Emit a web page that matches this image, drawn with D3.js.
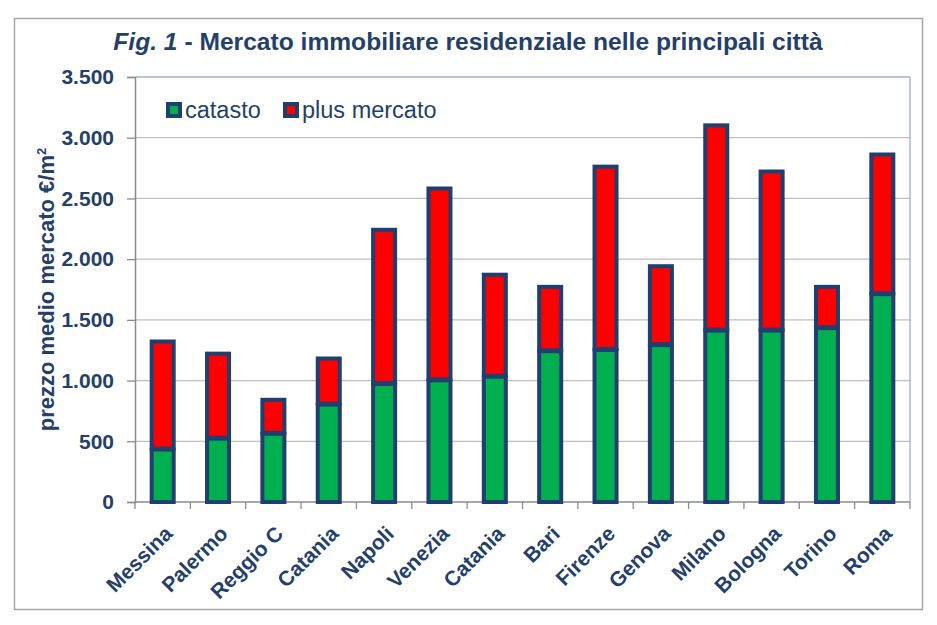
<!DOCTYPE html>
<html>
<head>
<meta charset="utf-8">
<script src="https://cdn.jsdelivr.net/npm/d3@7"></script>
<style>
  body { margin: 0; background: #fff; }
  text { font-family: "Liberation Sans", Arial, sans-serif; }
</style>
</head>
<body>
<svg id="chart" width="937" height="625"></svg>
<script>
// dati
const citta = ["Messina", "Palermo", "Reggio C", "Catania", "Napoli", "Venezia", "Catania",
               "Bari", "Firenze", "Genova", "Milano", "Bologna", "Torino", "Roma"];
const catasto = [440, 530, 570, 810, 980, 1010, 1040, 1250, 1260, 1300, 1420, 1420, 1440, 1720];
const totale = [1330, 1230, 850, 1190, 2250, 2590, 1880, 1780, 2770, 1950, 3110, 2730, 1780, 2870];
const yTicks = [0, 500, 1000, 1500, 2000, 2500, 3000, 3500];
const serie = ["catasto", "plus mercato"];

const blu = "#1F3F6F", testo = "#243F6B";
const colori = { "catasto": "#00B050", "plus mercato": "#FF0000" };

const svg = d3.select("#chart");
const margin = { left: 135, top: 77, right: 27, bottom: 123 };
const W = 937, H = 625;

// cornice esterna
svg.append("rect")
  .attr("x", 14.5).attr("y", 18.5).attr("width", 908).attr("height", 591)
  .attr("fill", "none").attr("stroke", "#A6A6A6").attr("stroke-width", 1.5);

const x = d3.scaleBand()
  .domain(d3.range(citta.length))
  .range([margin.left, W - margin.right])
  .paddingInner(0.53).paddingOuter(0.265);

const y = d3.scaleLinear().domain([0, 3500]).range([H - margin.bottom, margin.top]);

// griglia
svg.append("g").selectAll("line")
  .data(yTicks.slice(1))
  .join("line")
    .attr("x1", margin.left).attr("x2", W - margin.right)
    .attr("y1", d => y(d)).attr("y2", d => y(d))
    .attr("stroke", d => d === 3500 ? "#9FB1CC" : "#BFBFBF").attr("stroke-width", 1.3);

// bordo destro area grafico
svg.append("line")
  .attr("x1", W - margin.right).attr("x2", W - margin.right)
  .attr("y1", margin.top).attr("y2", H - margin.bottom)
  .attr("stroke", "#9FB1CC").attr("stroke-width", 1.3);

// asse Y
const yAxis = svg.append("g")
  .attr("transform", `translate(${margin.left},0)`)
  .call(d3.axisLeft(y).tickValues(yTicks).tickSize(8).tickPadding(13)
    .tickFormat(d => d3.format(",")(d).replace(/,/g, ".")));
yAxis.select(".domain").attr("stroke", "#8C8C8C").attr("stroke-width", 1.5);
yAxis.selectAll(".tick line").attr("stroke", "#8C8C8C").attr("stroke-width", 1.3);
yAxis.selectAll(".tick text")
  .attr("fill", testo).style("font-size", "21px").style("font-weight", "bold")
  .attr("font-family", "Liberation Sans");

// asse X
const bandStep = x.step();
svg.append("line")
  .attr("x1", margin.left).attr("x2", W - margin.right)
  .attr("y1", y(0)).attr("y2", y(0))
  .attr("stroke", "#8C8C8C").attr("stroke-width", 1.5);
svg.append("g").selectAll("line")
  .data(d3.range(citta.length + 1))
  .join("line")
    .attr("x1", i => margin.left + i * bandStep).attr("x2", i => margin.left + i * bandStep)
    .attr("y1", y(0)).attr("y2", y(0) + 7)
    .attr("stroke", "#8C8C8C").attr("stroke-width", 1.3);

svg.append("g").selectAll("text")
  .data(citta)
  .join("text")
    .attr("transform", (d, i) => `translate(${x(i) + x.bandwidth() / 2 + 11},${y(0) + 33}) rotate(-45)`)
    .attr("text-anchor", "end")
    .attr("fill", testo)
    .style("font-size", "21px").style("font-weight", "bold")
    .text(d => d);

// barre impilate (bordo centrato: i bordi dei segmenti si sovrappongono)
const righe = citta.map((c, i) => ({ i, catasto: catasto[i], "plus mercato": totale[i] - catasto[i] }));
const stack = d3.stack().keys(serie)(righe);

svg.append("g").selectAll("g")
  .data(stack)
  .join("g")
    .attr("fill", d => colori[d.key])
  .selectAll("rect")
  .data(d => d)
  .join("rect")
    .attr("x", d => x(d.data.i) + 2)
    .attr("width", x.bandwidth() - 4)
    .attr("y", d => y(d[1]) + 1)
    .attr("height", d => y(d[0]) - y(d[1]) - 1)
    .attr("stroke", blu).attr("stroke-width", 4);

// legenda
const leg = svg.append("g").attr("transform", "translate(166,102)");
const legX = [0, 117];
serie.forEach((s, k) => {
  const g = leg.append("g").attr("transform", `translate(${legX[k]},0)`);
  g.append("rect").attr("x", 2).attr("y", 2).attr("width", 12).attr("height", 12)
    .attr("fill", colori[s]).attr("stroke", blu).attr("stroke-width", 4);
  g.append("text").attr("x", 19).attr("y", 16)
    .attr("fill", testo).style("font-size", "23.5px")
    .text(s);
});

// titolo asse Y
svg.append("text")
  .attr("transform", `translate(54,${(y(0) + y(3500)) / 2}) rotate(-90)`)
  .attr("text-anchor", "middle")
  .attr("fill", testo)
  .style("font-size", "22px").style("font-weight", "bold")
  .html("prezzo medio mercato €/m<tspan dy='-8' font-size='13px'>2</tspan>");

// titolo
const tit = svg.append("text")
  .attr("x", 468).attr("y", 50)
  .attr("text-anchor", "middle")
  .attr("fill", testo)
  .style("font-size", "24.6px").style("font-weight", "bold");
tit.append("tspan").style("font-style", "italic").text("Fig. 1");
tit.append("tspan").text(" - Mercato immobiliare residenziale nelle principali città");
</script>
</body>
</html>
